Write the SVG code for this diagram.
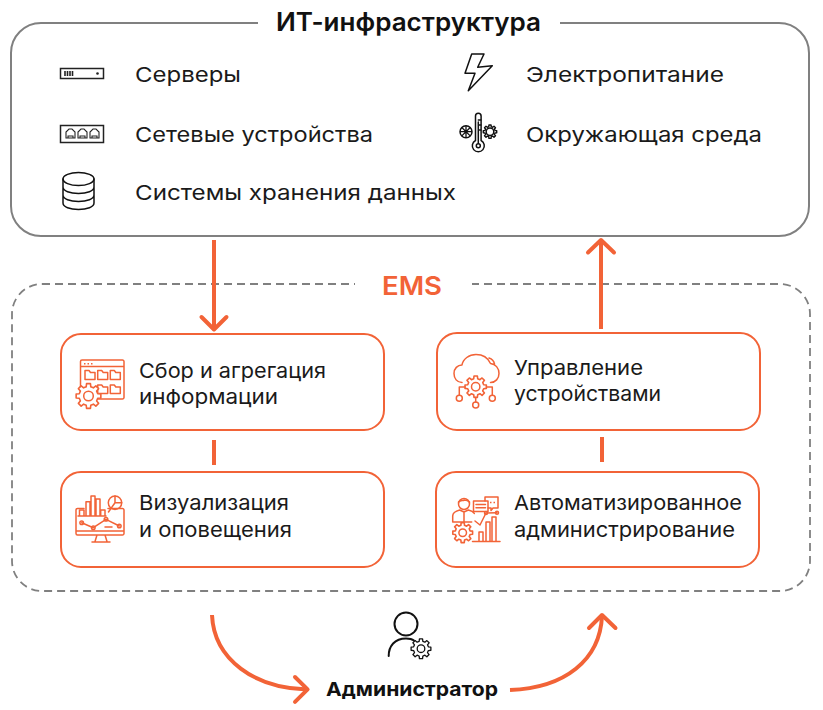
<svg xmlns="http://www.w3.org/2000/svg" width="823" height="710" viewBox="0 0 823 710">
<style>
text{font-family:"Inter","Noto Sans","Liberation Sans",sans-serif;fill:#1a1a1a;font-size:20.5px}
.h{font-size:25px;font-weight:600;fill:#111}
.e{font-size:26px;font-weight:600;fill:#f26337}
.a{font-size:19px;font-weight:700;fill:#111}
.box{fill:#fff;stroke:#f26337;stroke-width:2}
.con{fill:none;stroke:#f26337;stroke-width:4;stroke-linecap:round;stroke-linejoin:round}
.stub{fill:none;stroke:#f26337;stroke-width:4}
.o{fill:none;stroke:#f26337;stroke-width:1.5;stroke-linejoin:round;stroke-linecap:round}
.k{fill:none;stroke:#111;stroke-width:1.5;stroke-linejoin:round;stroke-linecap:round}
.g{vector-effect:non-scaling-stroke;fill:#fff;stroke-linejoin:round}
</style>
<defs>
<polygon id="gear" class="g" points="7.37,-1.84 9.88,-1.56 9.88,1.56 7.37,1.84 6.51,3.91 8.09,5.88 5.88,8.09 3.91,6.51 1.84,7.37 1.56,9.88 -1.56,9.88 -1.84,7.37 -3.91,6.51 -5.88,8.09 -8.09,5.88 -6.51,3.91 -7.37,1.84 -9.88,1.56 -9.88,-1.56 -7.37,-1.84 -6.51,-3.91 -8.09,-5.88 -5.88,-8.09 -3.91,-6.51 -1.84,-7.37 -1.56,-9.88 1.56,-9.88 1.84,-7.37 3.91,-6.51 5.88,-8.09 8.09,-5.88 6.51,-3.91"/>
</defs>

<g id="it-infrastructure">
<rect x="11" y="23" width="798" height="213" rx="30" fill="#fff" stroke="#808080" stroke-width="2"/>
<rect x="258" y="15" width="302" height="16" fill="#fff"/>
<text class="h" x="276" y="31" textLength="265" lengthAdjust="spacingAndGlyphs">ИТ-инфраструктура</text>
</g>

<g id="servers">
<rect x="60.500" y="68.500" width="43" height="10" fill="none" stroke="#222" stroke-width="1.500"/>
<path d="M65 71v5M67.500 71v5M70 71v5M72.500 71v5" stroke="#222" stroke-width="1.600" fill="none"/>
<circle cx="97.500" cy="73.500" r="1.300" fill="#222"/>
<text x="135" y="82" textLength="106" lengthAdjust="spacingAndGlyphs">Серверы</text>
</g>
<g id="network">
<rect x="60.500" y="125.500" width="43" height="17" fill="none" stroke="#222" stroke-width="1.500"/>
<path d="M66 138v-6l3-3h3l3 3v6z M68 138v-2h5v2" fill="none" stroke="#222" stroke-width="1.100"/>
<path d="M78 138v-6l3-3h3l3 3v6z M80 138v-2h5v2" fill="none" stroke="#222" stroke-width="1.100"/>
<path d="M90 138v-6l3-3h3l3 3v6z M92 138v-2h5v2" fill="none" stroke="#222" stroke-width="1.100"/>
<text x="135" y="142" textLength="238" lengthAdjust="spacingAndGlyphs">Сетевые устройства</text>
</g>
<g id="storage">
<ellipse cx="78.500" cy="179" rx="15.500" ry="6.500" class="k"/>
<path class="k" d="M63 179v24c0 4 7 6.500 15.500 6.500s15.500-2.500 15.500-6.500v-24M63 187c0 4 7 6.500 15.500 6.500s15.500-2.500 15.500-6.500M63 195c0 4 7 6.500 15.500 6.500s15.500-2.500 15.500-6.500"/>
<text x="135" y="200" textLength="321" lengthAdjust="spacingAndGlyphs">Системы хранения данных</text>
</g>
<g id="power">
<polygon class="k" points="471.700,54 484,54 477.700,67.300 492.300,65.700 468.300,90.700 475,73.300 465,73.300"/>
<text x="526" y="82" textLength="198" lengthAdjust="spacingAndGlyphs">Электропитание</text>
</g>
<g id="environment">
<path class="k" d="M475.500 140.500V116a2.800 2.800 0 0 1 5.600 0v24.500a6 6 0 1 1-5.600 0z"/>
<circle cx="478.300" cy="145.700" r="2" class="k"/>
<path class="k" d="M478.300 122v21M478.300 120h2.500M478.300 125h2.500M478.300 130h2.500"/>
<circle cx="466" cy="131.700" r="6" fill="none" stroke="#111" stroke-width="1.500"/>
<path d="M460 131.700h12M466 125.700v12M461.800 127.500l8.400 8.400M470.200 127.500l-8.400 8.400" stroke="#111" stroke-width="1.300" fill="none"/>
<use href="#gear" transform="translate(490 131.700) scale(.68)" stroke="#111" stroke-width="1.400"/>
<circle cx="490" cy="131.700" r="3.800" class="k"/>
<text x="526" y="142" textLength="236" lengthAdjust="spacingAndGlyphs">Окружающая среда</text>
</g>

<g id="ems">
<rect x="12" y="284" width="798" height="307" rx="30" fill="#fff" stroke="#808080" stroke-width="1.800" stroke-dasharray="8 5"/>
<rect x="355" y="276" width="117" height="16" fill="#fff"/>
<text class="e" x="382" y="295" textLength="60" lengthAdjust="spacingAndGlyphs">EMS</text>
</g>

<g id="collect">
<rect class="box" x="61" y="334" width="323" height="96" rx="20"/>
<path class="o" d="M85 399h-3a1.500 1.500 0 0 1-1.500-1.500V361.500a1.500 1.500 0 0 1 1.500-1.500h40.500a1.500 1.500 0 0 1 1.500 1.500V397.500a1.500 1.500 0 0 1-1.500 1.500H98M80.500 366.500h43.500"/>
<path class="o" d="M85 379.500v-9h4l1.500 2h4.500v7zM97.700 379.500v-9h4l1.500 2h4.500v7zM110.300 379.500v-9h4l1.500 2h4.500v7zM97.700 393.500v-8.500h4l1.500 2h4.500v6.500zM110.300 393.500v-8.500h4l1.500 2h4.500v6.500z"/>
<path d="M84 363.700h1.500M87.500 363.700h1.500M91 363.700h1.500" stroke="#f26337" stroke-width="1.500"/>
<use href="#gear" transform="translate(88.500 396) scale(1.250)" stroke="#f26337" stroke-width="1.600"/>
<circle cx="88.500" cy="396" r="4.800" class="o"/>
<text x="139" y="378" textLength="187" lengthAdjust="spacingAndGlyphs">Сбор и агрегация</text>
<text x="139" y="404" textLength="139" lengthAdjust="spacingAndGlyphs">информации</text>
</g>
<g id="visualize">
<rect class="box" x="61" y="472" width="323" height="95" rx="20"/>
<path class="o" d="M84 508.500h-6.500a1.500 1.500 0 0 0-1.500 1.500v23.500a1.500 1.500 0 0 0 1.500 1.500h45a1.500 1.500 0 0 0 1.500-1.500V510a1.500 1.500 0 0 0-1.500-1.500H108M76 531h48M97 535l-2 6.500M105 535l2 6.500M92 542h18"/>
<path class="o" d="M79.500 516v-6h4.500v6M86 516v-14.300h4V516M91 516v-20h4v20M96 516v-17h4v17M100.700 516v-6h4.300v6M78 516h28"/>
<circle cx="115" cy="502.700" r="6.700" class="o"/>
<path class="o" d="M115 496v6.700h6.700M108.500 512l6.500-9.300"/>
<path class="o" d="M81.700 522.700l11.600 5 12.700-8.400 13.300 6.700"/>
<circle cx="81.700" cy="522.700" r="1.800" class="o"/>
<circle cx="93.300" cy="527.700" r="1.800" class="o"/>
<circle cx="106" cy="519.300" r="1.800" class="o"/>
<circle cx="119.300" cy="526" r="1.800" class="o"/>
<path class="o" d="M105 527h7"/>
<text x="139" y="510" textLength="150" lengthAdjust="spacingAndGlyphs">Визуализация</text>
<text x="139" y="537" textLength="153" lengthAdjust="spacingAndGlyphs">и оповещения</text>
</g>
<g id="manage">
<rect class="box" x="437" y="333" width="323" height="97" rx="20"/>
<path class="o" d="M462 382.500c-5 0-8-4-8-9 0-5 3.500-8.500 8-8.500 1-6 7-10.500 14-10.500 7 0 12 3.500 14.500 9 5 .5 8.500 4.500 8.500 10 0 5-3.500 9-8.500 9M489 358c3 1 5 3.500 5.500 6"/>
<use href="#gear" transform="translate(475.700 386.700) scale(1.080)" stroke="#f26337" stroke-width="1.600"/>
<circle cx="475.700" cy="386.700" r="4.200" class="o"/>
<path class="o" d="M465 387h-5.700v8.300M486.500 387h5.800v8.300M475.700 397.500v4.500"/>
<circle cx="459.300" cy="398.300" r="3" class="o"/>
<circle cx="475.700" cy="405" r="3" class="o"/>
<circle cx="492.300" cy="398.300" r="3" class="o"/>
<text x="514" y="375" textLength="129" lengthAdjust="spacingAndGlyphs">Управление</text>
<text x="514" y="401" textLength="147" lengthAdjust="spacingAndGlyphs">устройствами</text>
</g>
<g id="automate">
<rect class="box" x="436" y="472" width="323" height="95" rx="20"/>
<circle cx="464" cy="504" r="5.500" class="o"/>
<path class="o" d="M458.500 502c2-2 4-1 6-2 2 0 4 1 5 2"/>
<path class="o" d="M452.700 522v-6c0-3 3-5 7-6l4.300 2 4.300-2c3 .7 5 1.700 6 3.500M464 512v10M452.700 522h19"/>
<rect x="473.500" y="501" width="14.500" height="10.500" fill="#fff" stroke="#f26337" stroke-width="1.500" stroke-linejoin="round"/>
<path class="o" d="M476 504.500h9.500M476 507.800h9.500"/>
<path class="o" d="M485 497h13v11h-5l-2 2.500v-2.500h-3M485 497v4"/>
<path d="M490 502.500h1.500M493.500 502.500h1.500" stroke="#f26337" stroke-width="1.500"/>
<use href="#gear" transform="translate(462.700 532.700) scale(1)" stroke="#f26337" stroke-width="1.600"/>
<circle cx="462.700" cy="532.700" r="3.800" class="o"/>
<path class="o" d="M472.500 541.500h27.500M479 541v-9h4v9M486 541v-19h4v19M492 541v-24h4v24"/>
<path class="o" d="M475 521l5 4 6-12 11-.3"/>
<circle cx="486" cy="513" r="1.500" class="o"/>
<circle cx="497" cy="512.700" r="1.500" class="o"/>
<text x="514" y="510" textLength="228" lengthAdjust="spacingAndGlyphs">Автоматизированное</text>
<text x="514" y="537" textLength="221" lengthAdjust="spacingAndGlyphs">администрирование</text>
</g>

<g id="administrator">
<circle cx="406" cy="624" r="11.500" fill="none" stroke="#111" stroke-width="2"/>
<path d="M388.700 656c0-10 6-17.500 17.300-17.500 3 0 6 .5 8 2" fill="none" stroke="#111" stroke-width="2" stroke-linecap="round"/>
<use href="#gear" transform="translate(421 648.700) scale(1)" stroke="#111" stroke-width="1.300"/>
<circle cx="421" cy="648.700" r="3.800" fill="none" stroke="#111" stroke-width="1.300"/>
<text class="a" x="326" y="696" textLength="172" lengthAdjust="spacingAndGlyphs">Администратор</text>
</g>

<g id="connectors">
<path class="con" style="stroke-linecap:butt" d="M214 240V329"/>
<path class="con" d="M201.500 317L214 329.500L226.500 317"/>
<path class="con" style="stroke-linecap:butt" d="M601 329V240"/>
<path class="con" d="M588 252.500L601 240L614 252.500"/>
<path class="stub" d="M214 440V465"/>
<path class="stub" d="M602 437V462"/>
<path class="con" style="stroke-linecap:butt" d="M212 615C214 660 255 688 307 689.400"/>
<path class="con" d="M295 677L307.600 689.400L295 701.900"/>
<path class="con" style="stroke-linecap:butt" d="M510 690C565 688 600 660 602 616"/>
<path class="con" d="M589 628L602 615L615.500 628"/>
</g>
</svg>
